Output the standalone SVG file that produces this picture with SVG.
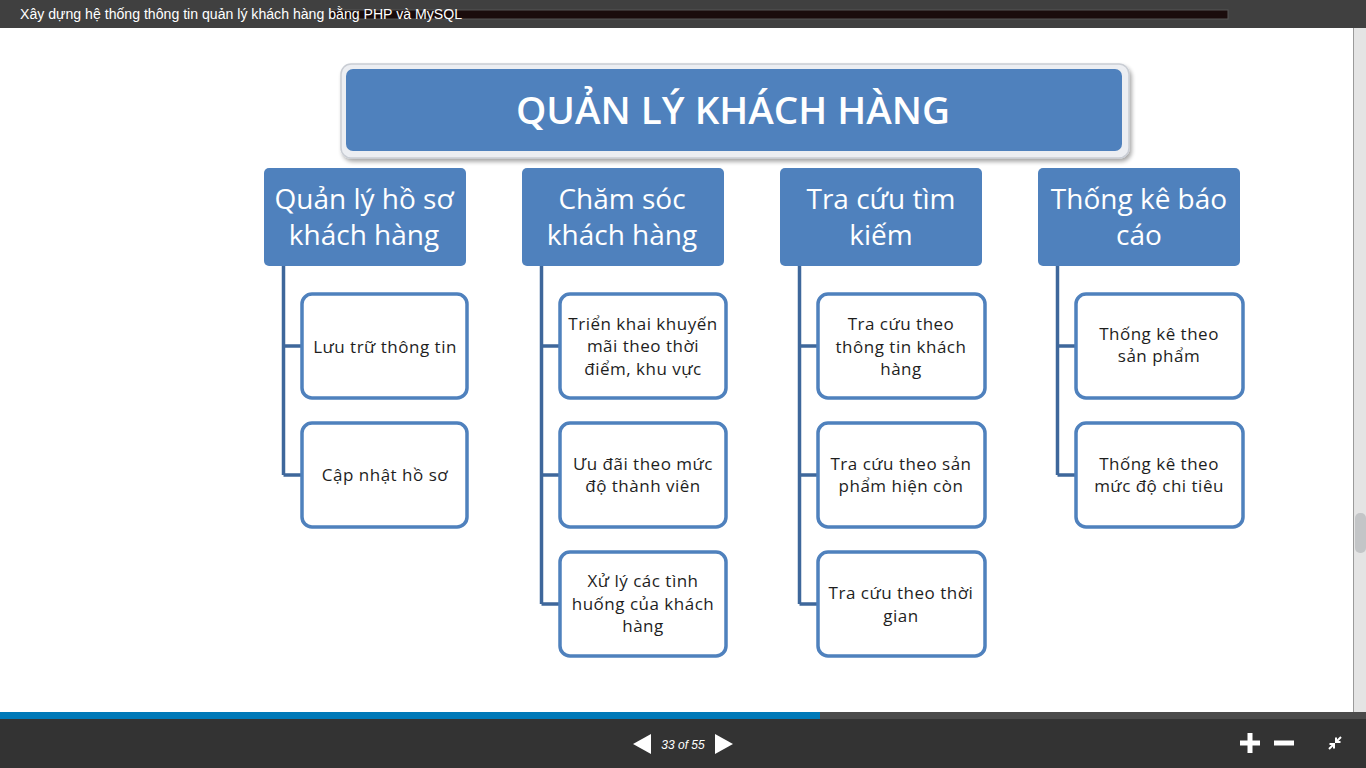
<svg xmlns="http://www.w3.org/2000/svg" width="1366" height="768" viewBox="0 0 1366 768">
  <defs>
    <style>
      .l2 { fill: #4f81bd; }
      .l2t { font-family: "Open Sans", "Noto Sans", sans-serif; font-size: 28px; fill: #ffffff; text-anchor: middle; }
      .leaf { fill: #ffffff; stroke: #4f81bd; stroke-width: 3.5; }
      .lt { font-family: "Open Sans", "Noto Sans", sans-serif; font-size: 17px; letter-spacing: 0.5px; fill: #1e1e1e; text-anchor: middle; }
      .conn { fill: none; stroke: #3e679b; stroke-width: 3.5; }
      .ui { fill: #ffffff; }
    </style>
    <filter id="sh" x="-5%" y="-20%" width="110%" height="150%">
      <feGaussianBlur in="SourceAlpha" stdDeviation="2"/>
      <feOffset dx="2" dy="3"/>
      <feComponentTransfer><feFuncA type="linear" slope="0.35"/></feComponentTransfer>
      <feMerge><feMergeNode/><feMergeNode in="SourceGraphic"/></feMerge>
    </filter>
  </defs>

  <!-- page background -->
  <rect x="0" y="0" width="1366" height="768" fill="#ffffff"/>

  <!-- top title bar -->
  <g id="topbar">
    <rect x="0" y="0" width="1366" height="28" fill="#404040"/>
    <rect x="330" y="10" width="898" height="9" fill="#1a0c0c" stroke="#555" stroke-width="1"/>
    <text x="20" y="19" font-family="Liberation Sans, Arial, sans-serif" font-size="14" fill="#ffffff" textLength="442" lengthAdjust="spacingAndGlyphs">Xây dựng hệ thống thông tin quản lý khách hàng bằng PHP và MySQL</text>
  </g>

  <!-- scrollbar -->
  <g id="scrollbar">
    <rect x="1353" y="28" width="13" height="684" fill="#e4e4e4"/>
    <line x1="1353.5" y1="28" x2="1353.5" y2="712" stroke="#9a9a9a" stroke-width="1"/>
    <rect x="1355" y="513" width="11" height="40" rx="5" fill="#c3c5c7"/>
  </g>

  <!-- root node -->
  <g id="root">
    <rect x="341" y="64" width="788" height="94" rx="10" fill="#eceef2" stroke="#c9cdd4" stroke-width="1.5" filter="url(#sh)"/>
    <rect x="346" y="69" width="776" height="82" rx="7" fill="#4f81bd"/>
    <text x="733" y="124" font-family="Open Sans, Noto Sans, sans-serif" font-size="38" font-weight="600" fill="#ffffff" text-anchor="middle" textLength="434" lengthAdjust="spacingAndGlyphs">QUẢN LÝ KHÁCH HÀNG</text>
  </g>

  <!-- connectors -->
  <g id="connectors">
    <path class="conn" d="M283.5 266 V475 M283.5 346 H302 M283.5 475 H302"/>
    <path class="conn" d="M541.5 266 V604 M541.5 346 H560 M541.5 475 H560 M541.5 604 H560"/>
    <path class="conn" d="M799.5 266 V604 M799.5 346 H818 M799.5 475 H818 M799.5 604 H818"/>
    <path class="conn" d="M1057.5 266 V475 M1057.5 346 H1076 M1057.5 475 H1076"/>
  </g>

  <!-- level 2 nodes -->
  <g id="cat1">
    <rect class="l2" x="264" y="168" width="202" height="98" rx="5"/>
    <text class="l2t" x="364" y="209">Quản lý hồ sơ</text>
    <text class="l2t" x="364" y="245">khách hàng</text>
  </g>
  <g id="cat2">
    <rect class="l2" x="522" y="168" width="202" height="98" rx="5"/>
    <text class="l2t" x="622" y="209">Chăm sóc</text>
    <text class="l2t" x="622" y="245">khách hàng</text>
  </g>
  <g id="cat3">
    <rect class="l2" x="780" y="168" width="202" height="98" rx="5"/>
    <text class="l2t" x="881" y="209">Tra cứu tìm</text>
    <text class="l2t" x="881" y="245">kiếm</text>
  </g>
  <g id="cat4">
    <rect class="l2" x="1038" y="168" width="202" height="98" rx="5"/>
    <text class="l2t" x="1139" y="209">Thống kê báo</text>
    <text class="l2t" x="1139" y="245">cáo</text>
  </g>

  <!-- leaves column 1 -->
  <g id="c1a">
    <rect class="leaf" x="302" y="294" width="165" height="104" rx="10"/>
    <text class="lt" x="385" y="353">Lưu trữ thông tin</text>
  </g>
  <g id="c1b">
    <rect class="leaf" x="302" y="423" width="165" height="104" rx="10"/>
    <text class="lt" x="385" y="481">Cập nhật hồ sơ</text>
  </g>

  <!-- leaves column 2 -->
  <g id="c2a">
    <rect class="leaf" x="560" y="294" width="166" height="104" rx="10"/>
    <text class="lt" x="643" y="330">Triển khai khuyến</text>
    <text class="lt" x="643" y="352">mãi theo thời</text>
    <text class="lt" x="643" y="375">điểm, khu vực</text>
  </g>
  <g id="c2b">
    <rect class="leaf" x="560" y="423" width="166" height="104" rx="10"/>
    <text class="lt" x="643" y="470">Ưu đãi theo mức</text>
    <text class="lt" x="643" y="492">độ thành viên</text>
  </g>
  <g id="c2c">
    <rect class="leaf" x="560" y="552" width="166" height="104" rx="10"/>
    <text class="lt" x="643" y="587">Xử lý các tình</text>
    <text class="lt" x="643" y="610">huống của khách</text>
    <text class="lt" x="643" y="632">hàng</text>
  </g>

  <!-- leaves column 3 -->
  <g id="c3a">
    <rect class="leaf" x="818" y="294" width="167" height="104" rx="10"/>
    <text class="lt" x="901" y="330">Tra cứu theo</text>
    <text class="lt" x="901" y="353">thông tin khách</text>
    <text class="lt" x="901" y="375">hàng</text>
  </g>
  <g id="c3b">
    <rect class="leaf" x="818" y="423" width="167" height="104" rx="10"/>
    <text class="lt" x="901" y="470">Tra cứu theo sản</text>
    <text class="lt" x="901" y="492">phẩm hiện còn</text>
  </g>
  <g id="c3c">
    <rect class="leaf" x="818" y="552" width="167" height="104" rx="10"/>
    <text class="lt" x="901" y="599">Tra cứu theo thời</text>
    <text class="lt" x="901" y="622">gian</text>
  </g>

  <!-- leaves column 4 -->
  <g id="c4a">
    <rect class="leaf" x="1076" y="294" width="167" height="104" rx="10"/>
    <text class="lt" x="1159" y="340">Thống kê theo</text>
    <text class="lt" x="1159" y="362">sản phẩm</text>
  </g>
  <g id="c4b">
    <rect class="leaf" x="1076" y="423" width="167" height="104" rx="10"/>
    <text class="lt" x="1159" y="470">Thống kê theo</text>
    <text class="lt" x="1159" y="492">mức độ chi tiêu</text>
  </g>

  <!-- bottom controls -->
  <g id="progress">
    <rect x="0" y="712" width="1366" height="7" fill="#4b4b4b"/>
    <rect x="0" y="712" width="820" height="7" fill="#0079b8"/>
  </g>
  <g id="bottombar">
    <rect x="0" y="719" width="1366" height="49" fill="#333333"/>
    <polygon class="ui" points="651,734 651,754 633,744"/>
    <text x="683" y="749" font-family="Liberation Sans, Arial, sans-serif" font-size="12" font-style="italic" fill="#ffffff" text-anchor="middle">33 of 55</text>
    <polygon class="ui" points="715,734 715,754 733,744"/>
    <rect class="ui" x="1240" y="740.5" width="20" height="5"/>
    <rect class="ui" x="1247.5" y="733" width="5" height="20"/>
    <rect class="ui" x="1274" y="740.5" width="20" height="5"/>
    <path d="M1341 737 L1336 742 M1336 737.5 V742 H1340.5 M1329 749 L1334 744 M1334 748.5 V744 H1329.5" stroke="#ffffff" stroke-width="2" fill="none"/>
  </g>
</svg>
